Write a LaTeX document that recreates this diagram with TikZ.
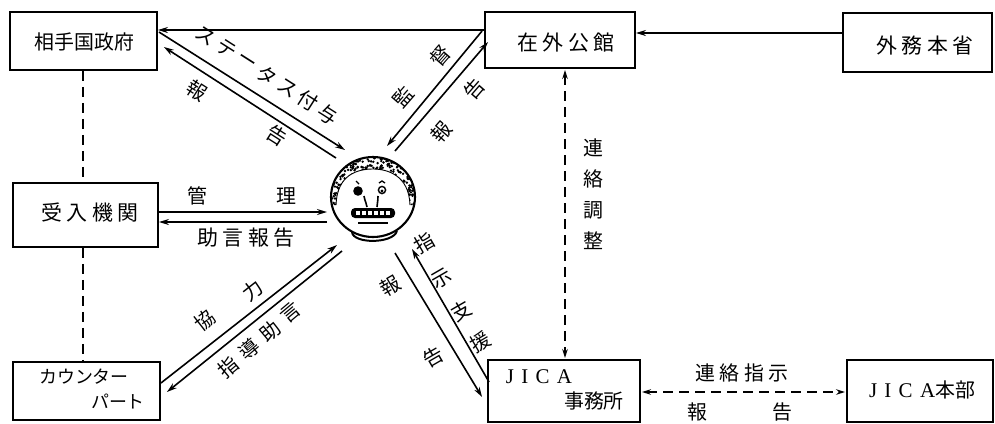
\documentclass[tikz,border=0pt]{standalone}
\usepackage{fontspec}
\setmainfont{Noto Sans CJK JP}
\newfontfamily\jpsp[LetterSpace=22]{Noto Sans CJK JP}
\newfontfamily\latsp[LetterSpace=35]{Liberation Serif}
\usetikzlibrary{arrows.meta,calc}
\begin{document}
\begin{tikzpicture}[x=1bp,y=-1bp,
  box/.style={draw,line width=1.9bp,inner sep=0pt},
  txt/.style={inner sep=0pt,font=\fontsize{20}{22}\selectfont},
  wide/.style={inner sep=0pt,font=\fontsize{21}{24}\selectfont\jpsp},
  ln/.style={line width=1.6bp},
  arr/.style={ln,-{Stealth[length=10bp,width=6bp]}},
  dsh/.style={line width=1.5bp,dash pattern=on 10bp off 6bp},
  dsharr/.style={dsh,{Stealth[length=9bp,width=5.5bp]}-{Stealth[length=9bp,width=5.5bp]}}]
\useasboundingbox (0,0) rectangle (995,423);

% boxes
\node[box,minimum width=147bp,minimum height=58bp] (gov) at (83.5,41) {};
\node[txt] (govt) at (84.5,42) {相手国政府};
\node[box,minimum width=145bp,minimum height=64bp] (uke) at (85.5,215) {};
\node[wide] (uket) at (90,213) {受入機関};
\node[box,minimum width=147bp,minimum height=58bp] (cp) at (86.5,391) {};
\node[inner sep=0pt,font=\fontsize{18}{20}\selectfont] (cpa) at (84,377) {カウンター};
\node[inner sep=0pt,font=\fontsize{18}{20}\selectfont] (cpb) at (118,401) {パート};
\node[box,minimum width=150bp,minimum height=56bp] (zai) at (560,40) {};
\node[wide] (zait) at (566,43) {在外公館};
\node[box,minimum width=149bp,minimum height=59bp] (gai) at (917.5,42.5) {};
\node[wide] (gait) at (925,46) {外務本省};
\node[box,minimum width=152bp,minimum height=62bp] (jo) at (564,391) {};
\node[inner sep=0pt,font=\fontsize{21}{24}\selectfont\latsp] (jot) at (539,377) {JICA};
\node[txt] (jos) at (594,401) {事務所};
\node[box,minimum width=146bp,minimum height=62bp] (jh) at (920,391) {};
\node[inner sep=0pt] (jht) at (922,390) {{\fontsize{21}{24}\selectfont\latsp JICA}{\fontsize{20}{22}\selectfont 本部}};

% the expert in the middle
\coordinate (face) at (373,197);
\begin{scope}[shift={(face)}]
  \begin{scope}
    \clip (168:42 and 40) arc[start angle=168,end angle=372,x radius=42,y radius=40]
      -- (37,8) .. controls (36,-22) and (14,-28) .. (0,-28)
      .. controls (-16,-28) and (-36,-22) .. (-37,8) -- cycle;
    \pgfmathsetseed{11}
    \foreach \i in {1,...,520}
      \fill ({42*rand},{-16+26*rand}) circle (1.35);
  \end{scope}
  \draw[line width=0.9bp] (37,8) .. controls (36,-22) and (14,-28) .. (0,-28)
      .. controls (-16,-28) and (-36,-22) .. (-37,8);
  \draw[line width=2.1bp] (0,0) ellipse [x radius=42,y radius=40];
  % eyes and brows
  \fill (-15,-6) circle (4.8);
  \draw[line width=1.4bp] (-17,-16) -- (-14,-13);
  \draw[line width=1.4bp] (9,-7) circle (3.6);
  \fill (9,-6) circle (1.6);
  \draw[line width=1.3bp] (6,-14) -- (9,-16) -- (12,-14);
  % nose
  \draw[line width=1.6bp] (-9,-1) .. controls (-8,5) and (-6,7) .. (-6,10);
  \draw[line width=1.6bp] (5,-1) .. controls (5,5) and (4,7) .. (4,10);
  % mouth with teeth
  \fill[rounded corners=4bp] (-22,11) rectangle (22,21);
  \foreach \t in {-15,-9,...,15}
    \fill[white] (\t-2,14) rectangle (\t+2,18);
  \draw[line width=1.7bp] (-15,26) -- (15,26);
  % collar
  \draw[line width=2bp] (-21,35) .. controls (-20,47) and (20,47) .. (24,34);
\end{scope}

% solid connectors along the top
\draw[arr] ($(gai.west)+(0,-9.5)$) -- ($(zai.east)+(0,-7)$);
\draw[arr] ($(zai.west)+(0,-10)$) -- ($(gov.east)+(0,-11)$);

% government <-> expert
\draw[arr] ($(gov.east)+(1,-9)$) -- ($(face)+(-28,-47)$);
\draw[arr] ($(face)+(-37,-39)$) -- ($(gov.east)+(6,6)$);
\foreach \c [count=\k from 0] in {ス,テ,ー,タ,ス,付,与}
  \node[txt,rotate=-32.5] (st\k) at ({206+20.3*\k},{36+13*\k}) {\c};
\node[txt,rotate=-32.5] (g1) at (197,90) {報};
\node[txt,rotate=-32.5] (g2) at (277,136) {告};

% embassy <-> expert
\draw[arr] ($(zai.west)+(-2,-9)$) -- ($(face)+(14,-51)$);
\draw[arr] ($(face)+(22,-46)$) -- ($(zai.west)+(4,2)$);
\node[txt,rotate=49] (z1) at (403,97) {監};
\node[txt,rotate=49] (z2) at (440,56) {督};
\node[txt,rotate=49] (z3) at (441,132) {報};
\node[txt,rotate=49] (z4) at (474,89) {告};

% receiving agency <-> expert
\draw[arr] ($(uke.east)+(0,-3)$) -- ($(face)+(-46,15)$);
\draw[arr] ($(face)+(-46,25)$) -- ($(uke.east)+(0,7)$);
\node[txt] (u1) at (197,196) {管};
\node[txt] (u2) at (286,196) {理};
\node[wide] (u3) at (246,238) {助言報告};

% counterpart <-> expert
\draw[arr] ($(cp.east)+(0,-8)$) -- ($(face)+(-36,48)$);
\draw[arr] ($(face)+(-31,54)$) -- ($(cp.east)+(6,1)$);
\node[txt,rotate=38] (c1) at (205,320) {協};
\node[txt,rotate=38] (c2) at (253,290) {力};
\foreach \c [count=\k from 0] in {指,導,助,言}
  \node[txt,rotate=40] (cs\k) at ({228+21*\k},{367-18*\k}) {\c};

% expert <-> JICA office
\draw[arr] ($(face)+(22,56)$) -- ($(jo.west)+(-5,6)$);
\draw[arr] ($(jo.west)+(2,-9)$) -- ($(face)+(39,52)$);
\node[txt,rotate=30] (j1) at (424,243) {指};
\node[txt,rotate=30] (j2) at (442,279) {示};
\node[txt,rotate=30] (j3) at (461,311) {支};
\node[txt,rotate=30] (j4) at (480,342) {援};
\node[txt,rotate=30] (j5) at (390,286) {報};
\node[txt,rotate=30] (j6) at (433,357) {告};

% dashed links
\draw[dsh] ($(gov.south)+(-0.5,0)$) -- ($(uke.north)+(-2.5,0)$);
\draw[dsh] ($(uke.south)+(-2.5,0)$) -- ($(cp.north)+(-3.5,0)$);
\draw[dsharr] ($(zai.south)+(5,1)$) -- ($(jo.north)+(1,-1)$);
\node[txt] (r1) at (593,148) {連};
\node[txt] (r2) at (593,179) {絡};
\node[txt] (r3) at (593,210) {調};
\node[txt] (r4) at (593,241) {整};
\draw[dsharr] ($(jo.east)+(1,1)$) -- ($(jh.west)+(-1,1)$);
\node[wide,font=\fontsize{20}{22}\selectfont\jpsp] (h1) at (742,373) {連絡指示};
\node[txt] (h2) at (697,412) {報};
\node[txt] (h3) at (782,412) {告};
\end{tikzpicture}
\end{document}
